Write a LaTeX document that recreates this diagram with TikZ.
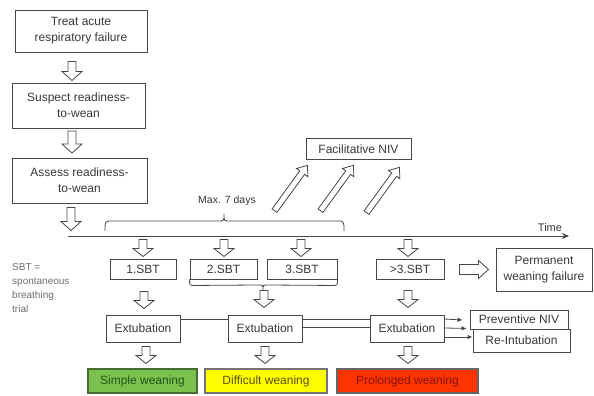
\documentclass[tikz,border=0pt]{standalone}
\usepackage{fontspec}
\setmainfont{Liberation Sans}
\usetikzlibrary{arrows.meta,calc}
\definecolor{linec}{RGB}{70,70,70}
\definecolor{textc}{RGB}{55,55,55}
\definecolor{notec}{RGB}{110,110,110}
\definecolor{greenf}{RGB}{124,192,78}
\definecolor{greenb}{RGB}{70,110,50}
\definecolor{greent}{RGB}{35,85,25}
\definecolor{yellowf}{RGB}{255,255,0}
\definecolor{yellowt}{RGB}{90,80,0}
\definecolor{redf}{RGB}{255,51,0}
\definecolor{redt}{RGB}{130,20,10}
% hollow block arrow: #1 name, #2 centre, #3 visual angle, #4 length, #5 shaft half width, #6 head half width, #7 head length
\newcommand{\HollowArrow}[7]{%
  \coordinate (#1) at #2;
  \begin{scope}[shift={#2}, x=1pt, y=1pt, rotate=#3]
    \draw[hollowarr] (-#4/2,-#5) -- (#4/2-#7,-#5) -- (#4/2-#7,-#6) -- (#4/2,0)
      -- (#4/2-#7,#6) -- (#4/2-#7,#5) -- (-#4/2,#5) -- cycle;
  \end{scope}}
\begin{document}
\begin{tikzpicture}[x=1pt,y=-1pt,
  box/.style={draw=linec, line width=0.9pt, align=center, text=textc,
    font=\fontsize{12}{16}\selectfont, inner sep=0pt},
  hollowarr/.style={draw=linec, line width=0.8pt, fill=white, line join=miter},
  outcome/.style={box, line width=1.2pt},
  conn/.style={draw=linec, line width=0.8pt},
  tip/.style={-{Latex[length=5pt,width=4.5pt]}}
]
\useasboundingbox (0,0) rectangle (594,396);

% left column
\node[box, minimum width=132pt, minimum height=42pt] (b1) at (81,31) {Treat acute\\respiratory failure};
\HollowArrow{a1}{(72,71)}{270}{19}{4}{10}{9}
\node[box, minimum width=133pt, minimum height=45pt] (b2) at (78.5,105.5) {Suspect readiness-\\to-wean};
\HollowArrow{a2}{(72,142)}{270}{22}{4}{10}{9}
\node[box, minimum width=135pt, minimum height=45pt] (b3) at (79.5,180.5) {Assess readiness-\\to-wean};
\HollowArrow{a3}{(71,219)}{270}{23}{4}{10}{9}

% time line
\coordinate (t0) at (68,236);
\coordinate (t1) at (569,236);
\draw[conn, -{Stealth[length=7pt,width=6pt]}] (t0) -- (t1);
\node[text=textc, font=\fontsize{11}{13}\selectfont, inner sep=0pt] (time) at (550,228) {Time};

% brace max 7 days
\draw[conn] (105,231) .. controls (105,221) .. (112,221) -- (218,221)
  .. controls (224,221) .. (224,214) .. controls (224,221) .. (230,221)
  -- (337,221) .. controls (344,221) .. (344,231);
\node[text=textc, font=\fontsize{10.5}{12}\selectfont, inner sep=0pt] (max) at (227,201) {Max. 7 days};

% facilitative NIV
\node[box, minimum width=105pt, minimum height=21pt] (fniv) at (358.5,149) {Facilitative NIV};
\HollowArrow{g1}{(291,188)}{54}{56}{3}{7}{9}
\HollowArrow{g2}{(337,188)}{54}{56}{3}{7}{9}
\HollowArrow{g3}{(383,190)}{54}{56}{3}{7}{9}

% SBT row
\HollowArrow{d1}{(143,248)}{270}{17}{4}{10}{8}
\HollowArrow{d2}{(224,248)}{270}{17}{4}{10}{8}
\HollowArrow{d3}{(301,248)}{270}{17}{4}{10}{8}
\HollowArrow{d4}{(408,248)}{270}{17}{4}{10}{8}
\node[box, minimum width=66pt, minimum height=20pt] (s1) at (143,269) {1.SBT};
\node[box, minimum width=67pt, minimum height=20pt] (s2) at (223.5,269) {2.SBT};
\node[box, minimum width=70pt, minimum height=20pt] (s3) at (302,269) {3.SBT};
\node[box, minimum width=68pt, minimum height=20pt] (s4) at (410,269) {>3.SBT};
\HollowArrow{ra}{(474,269.5)}{0}{29}{5}{9}{10}
\node[box, minimum width=96pt, minimum height=43pt] (pwf) at (544,269.5) {Permanent\\weaning failure};

% note
\node[anchor=north west, align=left, text=notec, font=\fontsize{10}{14}\selectfont, inner sep=0pt] (note) at (12,263) {SBT =\\spontaneous\\breathing\\trial};

% brace under 2/3 SBT
\draw[conn] (s2.south west) .. controls ($(s2.south west)+(0,6)$) .. ($(s2.south west)+(5,6)$)
  -- (258,285) .. controls (263,285) .. (263,290) .. controls (263,285) .. (268,285)
  -- ($(s3.south east)+(-5,6)$) .. controls ($(s3.south east)+(0,6)$) .. (s3.south east);

\HollowArrow{d5}{(144,300)}{270}{17}{4}{10}{8}
\HollowArrow{d6}{(264,299)}{270}{17}{4}{10}{8}
\HollowArrow{d7}{(408,299)}{270}{17}{4}{10}{8}

% extubation row
\node[box, minimum width=74pt, minimum height=27pt] (e1) at (143,328.5) {Extubation};
\node[box, minimum width=74pt, minimum height=27pt] (e2) at (265,328.5) {Extubation};
\node[box, minimum width=74pt, minimum height=27pt] (e3) at (407,328.5) {Extubation};
\node[box, minimum width=98pt, minimum height=19pt] (pniv) at (519,319.5) {Preventive NIV};
\node[box, minimum width=97pt, minimum height=23pt] (reint) at (521.5,340.5) {Re-Intubation};

\draw[conn] ([yshift=9.5pt]e1.east) -- ([yshift=9.5pt]e2.west);
\draw[conn] ([yshift=9.5pt]e2.east) -- ([yshift=9.5pt]e3.west);
\draw[conn] ([yshift=1pt]e2.east) -- ([yshift=1pt]e3.west);
\draw[conn, tip] ([yshift=9.5pt]e3.east) -- ([xshift=-7pt,yshift=-0.5pt]pniv.west);
\draw[conn, tip] ([yshift=0.5pt]e3.east) -- ($(pniv.south west)+(-3,-1)$);
\draw[conn, tip] ([yshift=-8.5pt]e3.east) -- ([yshift=3.5pt]reint.west);

\HollowArrow{d8}{(146,355)}{270}{17}{4}{10}{8}
\HollowArrow{d9}{(265,355)}{270}{17}{4}{10}{8}
\HollowArrow{d10}{(408,355)}{270}{17}{4}{10}{8}

% outcomes
\node[outcome, draw=greenb, fill=greenf, text=greent, minimum width=109pt, minimum height=24pt] (simple) at (142.5,381) {Simple weaning};
\node[outcome, draw=black!55, fill=yellowf, text=yellowt, minimum width=122pt, minimum height=24pt] (diff) at (266,381) {Difficult weaning};
\node[outcome, draw=black!60, fill=redf, text=redt, minimum width=141pt, minimum height=24pt] (prol) at (407.5,381) {Prolonged weaning};
\end{tikzpicture}
\end{document}
